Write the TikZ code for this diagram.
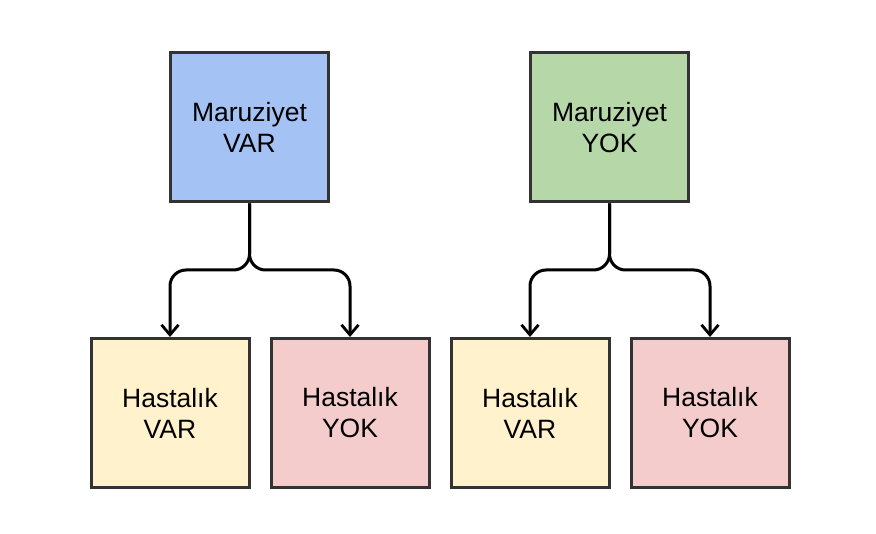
\documentclass[tikz,border=0pt]{standalone}
\usepackage{fontspec}
\setmainfont{Liberation Sans}
\usetikzlibrary{arrows.meta}
\definecolor{cblue}{HTML}{A4C2F4}
\definecolor{cgreen}{HTML}{B6D7A8}
\definecolor{cyellow}{HTML}{FFF2CC}
\definecolor{cpink}{HTML}{F4CCCC}
\definecolor{cborder}{HTML}{333333}
\tikzset{
  box/.style={draw=cborder, line width=3pt, minimum width=158pt, minimum height=149pt,
    inner sep=0pt, align=center, font=\fontsize{26.5}{31}\selectfont},
  conn/.style={line width=3pt, black, rounded corners=16pt,
    -{Straight Barb[length=10pt,width=17pt,line width=2.8pt]}}
}
\begin{document}
\begin{tikzpicture}[x=1pt,y=-1pt]
\useasboundingbox (0,0) rectangle (876,534);
\node[box, fill=cblue] (t1) at (249.5,127.5) {Maruziyet\\VAR};
\node[box, fill=cgreen] (t2) at (609.5,127.5) {Maruziyet\\YOK};
\node[box, fill=cyellow] (b1) at (170,413) {Hastalık\\VAR};
\node[box, fill=cpink] (b2) at (350,413) {Hastalık\\YOK};
\node[box, fill=cyellow] (b3) at (530,413) {Hastalık\\VAR};
\node[box, fill=cpink] (b4) at (710,413) {Hastalık\\YOK};
\draw[conn] (t1.south) -- (t1.south |- 0,270) -- (b1.north |- 0,270) -- (b1.north);
\draw[conn] (t1.south) -- (t1.south |- 0,270) -- (b2.north |- 0,270) -- (b2.north);
\draw[conn] (t2.south) -- (t2.south |- 0,270) -- (b3.north |- 0,270) -- (b3.north);
\draw[conn] (t2.south) -- (t2.south |- 0,270) -- (b4.north |- 0,270) -- (b4.north);
\end{tikzpicture}
\end{document}
